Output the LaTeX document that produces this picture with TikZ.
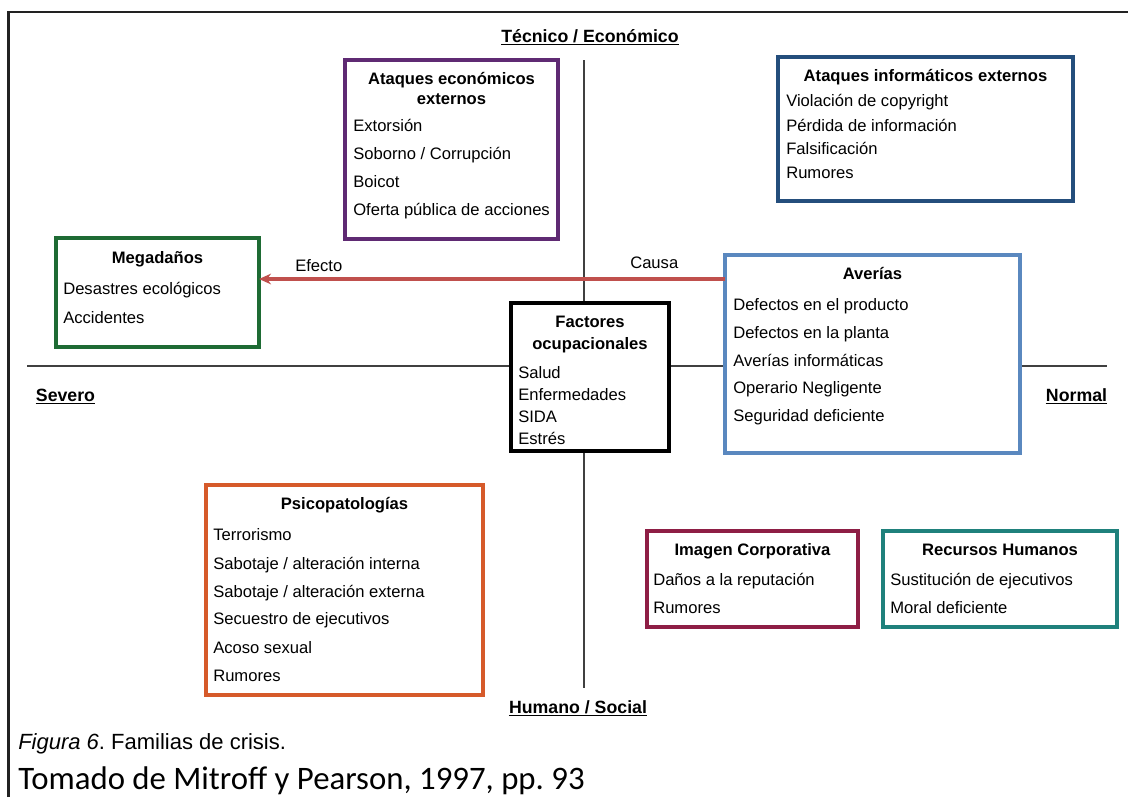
\documentclass[tikz,border=0pt]{standalone}
\usepackage{fontspec}
\setmainfont{Liberation Sans}
\newfontfamily\calibrifont{Carlito}
\usetikzlibrary{arrows.meta,fit}
\frenchspacing

\definecolor{cPurple}{HTML}{5F2A73}
\definecolor{cNavy}{HTML}{244E7C}
\definecolor{cGreen}{HTML}{1E6B34}
\definecolor{cSteel}{HTML}{5A88BF}
\definecolor{cArrow}{HTML}{C0504D}
\definecolor{cOrange}{HTML}{D65A2A}
\definecolor{cCrimson}{HTML}{8E1E45}
\definecolor{cTeal}{HTML}{1F817C}
\definecolor{axisgray}{HTML}{404040}
\definecolor{framegray}{HTML}{222222}

\begin{document}
\begin{tikzpicture}[x=0.75pt,y=-0.75pt,
  box/.style={draw, line width=2.8pt, fill=white, inner sep=0pt, outer sep=0pt},
  item/.style={anchor=base west, inner sep=0pt, font=\fontsize{12.45}{14}\selectfont},
  head/.style={anchor=base, inner sep=0pt, font=\fontsize{12.45}{14}\selectfont\bfseries},
  axislbl/.style={anchor=base, inner sep=0pt, font=\fontsize{13.3}{15}\selectfont\bfseries},
  axis/.style={draw=axisgray, line width=1pt},
  uline/.style={line width=1.1pt},
  flow/.style={draw=cArrow, line width=2.3pt, -{Stealth[length=9pt,width=8pt]}},
]
\useasboundingbox (0,0) rectangle (1128,797);

% outer frame (left and top edges)
\coordinate (f0) at (8.5,797);
\coordinate (f1) at (8.5,12);
\coordinate (f2) at (1128,12);
\draw[framegray, line width=1.6pt] (f0) -- (f1) -- (f2);

% axes
\coordinate (hl) at (27,366);
\coordinate (hr) at (1107,366);
\coordinate (vt) at (584,60);
\coordinate (vb) at (584,688);
\draw[axis] (hl) -- (hr);
\draw[axis] (vt) -- (vb);

% axis labels
\node[axislbl] (top) at (590,42) {Técnico / Económico};
\node[axislbl] (bot) at (578,713) {Humano / Social};
\node[axislbl] (sev) at (65.5,401) {Severo};
\node[axislbl] (nor) at (1076.5,401) {Normal};
\foreach \l in {top,bot,sev,nor}
  \draw[uline] ([yshift=-2pt]\l.base west) -- ([yshift=-2pt]\l.base east);

% Ataques economicos externos
\node[box, draw=cPurple, fit={(345,60) (558,239)}] (eco) {};
\node[head] at (451.5,84) {Ataques económicos};
\node[head] at (451.5,104) {externos};
\node[item] at (353,131) {Extorsión};
\node[item] at (353,159) {Soborno / Corrupción};
\node[item] at (353,187) {Boicot};
\node[item] at (353,215) {Oferta pública de acciones};

% Ataques informaticos externos
\node[box, draw=cNavy, fit={(778,57) (1073,201)}] (inf) {};
\node[head] at (925.5,81) {Ataques informáticos externos};
\node[item] at (786,106) {Violación de copyright};
\node[item] at (786,131) {Pérdida de información};
\node[item] at (786,154) {Falsificación};
\node[item] at (786,178) {Rumores};

% Megadanos
\node[box, draw=cGreen, fit={(56,238) (259,347)}] (meg) {};
\node[head] at (157.5,263) {Megadaños};
\node[item] at (63,294) {Desastres ecológicos};
\node[item] at (63,323) {Accidentes};

% Averias
\node[box, draw=cSteel, fit={(725,255) (1020,453)}] (ave) {};
\node[head] at (872.5,279) {Averías};
\node[item] at (733,310) {Defectos en el producto};
\node[item] at (733,338) {Defectos en la planta};
\node[item] at (733,366) {Averías informáticas};
\node[item] at (733,393) {Operario Negligente};
\node[item] at (733,421) {Seguridad deficiente};

% Factores ocupacionales
\node[box, draw=black, line width=3.2pt, fit={(511,303) (669,451)}] (fac) {};
\node[head] at (590,327) {Factores};
\node[head] at (590,349) {ocupacionales};
\node[item] at (518,378) {Salud};
\node[item] at (518,400) {Enfermedades};
\node[item] at (518,422) {SIDA};
\node[item] at (518,444) {Estrés};

% Psicopatologias
\node[box, draw=cOrange, fit={(206,485) (483,695)}] (psi) {};
\node[head] at (344.5,509) {Psicopatologías};
\node[item] at (213,540) {Terrorismo};
\node[item] at (213,569) {Sabotaje / alteración interna};
\node[item] at (213,597) {Sabotaje / alteración externa};
\node[item] at (213,624) {Secuestro de ejecutivos};
\node[item] at (213,653) {Acoso sexual};
\node[item] at (213,681) {Rumores};

% Imagen corporativa
\node[box, draw=cCrimson, fit={(647,531) (858,627)}] (img) {};
\node[head] at (752.5,555) {Imagen Corporativa};
\node[item] at (653,585) {Daños a la reputación};
\node[item] at (653,613) {Rumores};

% Recursos humanos
\node[box, draw=cTeal, fit={(883,531) (1117,627)}] (rrh) {};
\node[head] at (1000,555) {Recursos Humanos};
\node[item] at (890,585) {Sustitución de ejecutivos};
\node[item] at (890,613) {Moral deficiente};

% cause -> effect
\coordinate (src) at (ave.west |- 0,279);
\draw[flow] (src) -- (src -| meg.east);
\node[item] at (295,271) {Efecto};
\node[item] at (630,268) {Causa};

% caption
\node[anchor=base west, inner sep=0pt, font=\fontsize{16.5}{18}\selectfont] (cap1) at (18,749) {\textit{Figura 6}. Familias de crisis.};
\node[anchor=base west, inner sep=0pt, font=\calibrifont\fontsize{24.6}{28}\selectfont] (cap2) at (18,789) {Tomado de Mitroff y Pearson, 1997, pp. 93};
\end{tikzpicture}
\end{document}
